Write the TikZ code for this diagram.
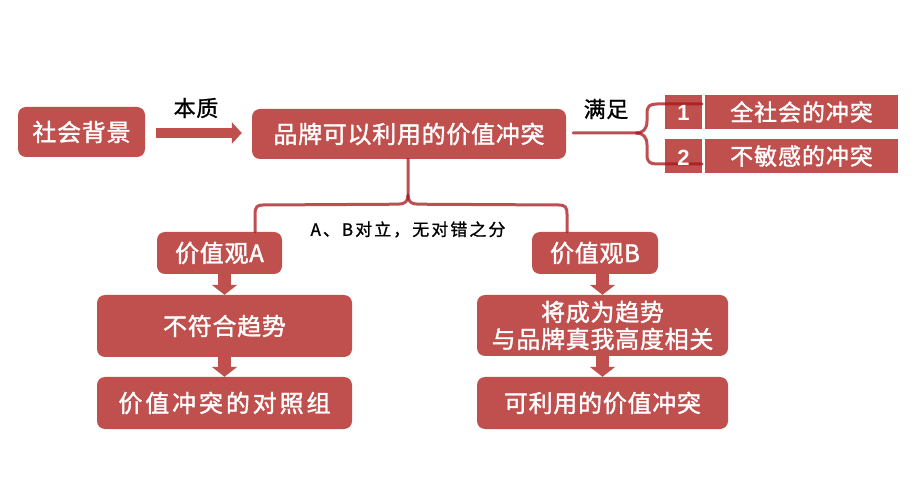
\documentclass[tikz,border=0pt]{standalone}
\usepackage{fontspec}
\newfontfamily\cjk{Noto Sans CJK SC}[FakeBold=1.5]
\newfontfamily\cjklbl{Noto Sans CJK SC}[FakeBold=1.0]
\newfontfamily\numfont{Liberation Sans}
\usetikzlibrary{arrows.meta,calc}
\definecolor{boxred}{HTML}{C0504D}
\definecolor{linered}{RGB}{170,20,25}
\tikzset{
  box/.style={fill=boxred, rounded corners=8pt, inner sep=0pt, text=white,
    font=\cjk\fontsize{24}{28}\selectfont\addfontfeature{LetterSpace=3}, align=center},
  sqbox/.style={fill=boxred, inner sep=0pt, text=white},
  blockarrow/.style={draw=boxred, line width=#1, line cap=butt},
  brace/.style={draw=linered, draw opacity=0.75, line width=3pt, line cap=round, line join=round},
  lbl/.style={text=black, inner sep=0pt},
  numlbl/.style={text=white, font=\numfont\bfseries\fontsize{22}{24}\selectfont},
}
\begin{document}
\begin{tikzpicture}[x=1pt,y=-1pt]
\useasboundingbox[fill=white] (0,0) rectangle (918,502);
% boxes
\node[box, minimum width=127pt, minimum height=50pt] (soc) at (81.5,132) {社会背景};
\node[box, minimum width=314pt, minimum height=50pt] (main) at (409,134) {品牌可以利用的价值冲突};
\node[sqbox, minimum width=37pt, minimum height=34pt] (n1) at (683.5,112) {};
\node[sqbox, minimum width=37pt, minimum height=34pt] (n2) at (683.5,156) {};
\node[sqbox, minimum width=193pt, minimum height=34pt, font=\cjk\fontsize{23}{26}\selectfont\addfontfeature{LetterSpace=4}] (t1) at (801.5,112) {全社会的冲突};
\node[sqbox, minimum width=193pt, minimum height=34pt, font=\cjk\fontsize{23}{26}\selectfont\addfontfeature{LetterSpace=4}] (t2) at (801.5,156) {不敏感的冲突};
\node[box, minimum width=125pt, minimum height=42pt] (va) at (219.5,253) {价值观A};
\node[box, minimum width=126pt, minimum height=42pt] (vb) at (595,253) {价值观B};
\node[box, minimum width=255pt, minimum height=62pt] (a1) at (224.5,326) {不符合趋势};
\node[box, minimum width=255pt, minimum height=52pt, font=\cjk\fontsize{24}{28}\selectfont\addfontfeature{LetterSpace=12}] (a2) at (224.5,403) {价值冲突的对照组};
\node[box, minimum width=251pt, minimum height=61pt, font=\cjk\fontsize{24}{27}\selectfont\addfontfeature{LetterSpace=3}] (b1) at (602.5,325.5) {将成为趋势\\与品牌真我高度相关};
\node[box, minimum width=251pt, minimum height=52pt] (b2) at (602.5,403) {可利用的价值冲突};
% labels
\node[lbl, font=\cjklbl\fontsize{22}{24}\selectfont\addfontfeature{LetterSpace=3}] (bz) at (196,108) {本质};
\node[lbl, font=\cjklbl\fontsize{22}{24}\selectfont\addfontfeature{LetterSpace=3}] (mz) at (606,109) {满足};
\node[lbl, font=\cjklbl\fontsize{17}{20}\selectfont\addfontfeature{LetterSpace=12}] (ab) at (408,229.5) {A、B对立，无对错之分};
% block arrows
\draw[blockarrow=10pt, -{Triangle[width=21pt,length=10pt]}, shorten <=11pt, shorten >=10pt] (soc.east |- 0,133) -- (main.west |- 0,133);
\draw[blockarrow=13pt, -{Triangle[width=25pt,length=10pt]}] (a1.north |- va.south) -- (a1.north);
\draw[blockarrow=13pt, -{Triangle[width=25pt,length=10pt]}] (a1.south) -- (a2.north);
\draw[blockarrow=13pt, -{Triangle[width=25pt,length=10pt]}] (b1.north |- vb.south) -- (b1.north);
\draw[blockarrow=13pt, -{Triangle[width=25pt,length=10pt]}] (b1.south) -- (b2.north);
% lower brace
\coordinate (bt) at ($(main.south)+(-1,44)$);
\draw[brace] (main.south -| bt) -- ($(bt)+(0,-8)$)
   .. controls ($(bt)+(0,-2)$) and ($(bt)+(-3,1)$) .. ($(bt)+(-10,1)$)
   -- (263,205) .. controls (257,205) and (255,207) .. (255,214) -- (va.north -| 255,0);
\draw[brace] ($(bt)+(0,-8)$)
   .. controls ($(bt)+(0,-2)$) and ($(bt)+(3,1)$) .. ($(bt)+(10,1)$)
   -- (559,205) .. controls (565,205) and (567,207) .. (567,214) -- (vb.north -| 567,0);
% right brace
\coordinate (rt) at (636,133);
\draw[brace] ($(main.east)+(7,-1)$) -- (rt)
   .. controls (643,133) and (647,129) .. (647,121) -- (647,113)
   .. controls (647,106) and (650,104) .. (657,104) -- (n1.east |- 0,104);
\draw[brace] (rt)
   .. controls (643,133) and (647,137) .. (647,145) -- (647,155)
   .. controls (647,162) and (650,164) .. (657,164) -- (n2.east |- 0,164);
% numbers on top
\node[numlbl] (num1) at ($(n1)+(0,1)$) {1};
\node[numlbl] (num2) at ($(n2)+(0,2)$) {2};
\end{tikzpicture}
\end{document}
